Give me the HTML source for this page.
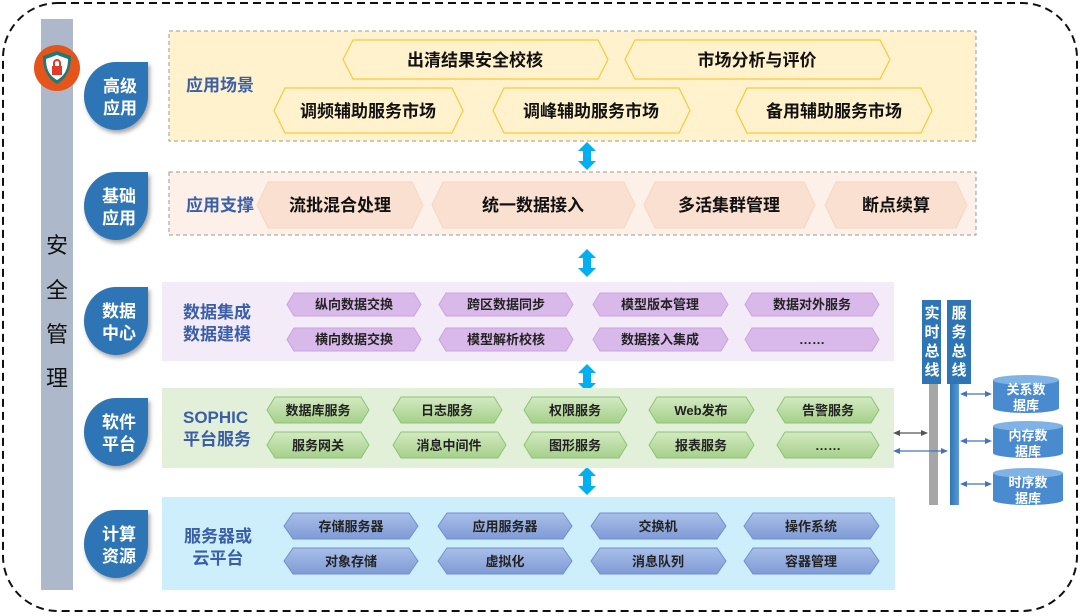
<!DOCTYPE html>
<html><head><meta charset="utf-8"><style>
html,body{margin:0;padding:0;background:#fff;width:1080px;height:616px;overflow:hidden}
svg{display:block}
text{font-family:"Liberation Sans","Noto Sans CJK SC",sans-serif;font-weight:bold}
</style></head><body>
<svg width="1080" height="616" viewBox="0 0 1080 616" xmlns="http://www.w3.org/2000/svg">
<defs>
<linearGradient id="gg" x1="0" y1="0" x2="0" y2="1"><stop offset="0" stop-color="#d3eac2"/><stop offset="1" stop-color="#a5d08a"/></linearGradient>
<linearGradient id="bg" x1="0" y1="0" x2="0" y2="1"><stop offset="0" stop-color="#a9bfe8"/><stop offset="1" stop-color="#7f9bd6"/></linearGradient>
<linearGradient id="bus" x1="0" y1="0" x2="1" y2="0"><stop offset="0" stop-color="#2e75b6"/><stop offset="1" stop-color="#5b9bd5"/></linearGradient>
<filter id="sh" x="-20%" y="-20%" width="150%" height="150%"><feDropShadow dx="2" dy="3" stdDeviation="2" flood-color="#000" flood-opacity="0.35"/></filter>
<g id="dar"><polygon points="0,-14 9,-5 4,-5 4,5 9,5 0,14 -9,5 -4,5 -4,-5 -9,-5" fill="#00b0f0"/></g>
</defs>
<rect x="3" y="3" width="1074" height="608" rx="55" fill="none" stroke="#111" stroke-width="2" stroke-dasharray="8 5"/>

<!-- security bar -->
<rect x="41" y="19" width="32" height="571" fill="#adb9ca"/>
<g font-size="22" fill="#111" text-anchor="middle" style="font-weight:normal">
<text x="57" y="253" style="font-weight:normal">安</text>
<text x="57" y="298" style="font-weight:normal">全</text>
<text x="57" y="342" style="font-weight:normal">管</text>
<text x="57" y="386" style="font-weight:normal">理</text>
</g>
<circle cx="57" cy="68" r="23" fill="#e5541b"/>
<path d="M57,51 L71,56 C71,70 66,79 57,84 C48,79 43,70 43,56 Z" fill="#1c7a78"/>
<path d="M57,55 L68,59 C68,70 64,76 57,80 C50,76 46,70 46,59 Z" fill="#fff"/>
<rect x="52" y="66" width="10" height="9" fill="#e03a2a"/>
<path d="M54,66 v-3 a3,3 0 0 1 6,0 v3" fill="none" stroke="#e03a2a" stroke-width="2"/>

<!-- leaf badges -->
<g fill="#2e75b6" filter="url(#sh)">
<path d="M148,62 V96 A32,34 0 1 1 116,62 Z"/>
<path d="M148,172 V206 A32,34 0 1 1 116,172 Z"/>
<path d="M148,287 V321 A32,34 0 1 1 116,287 Z"/>
<path d="M148,398 V432 A32,34 0 1 1 116,398 Z"/>
<path d="M148,510 V544 A32,34 0 1 1 116,510 Z"/>
</g>
<g font-size="17" fill="#fff" text-anchor="middle">
<text x="120" y="92">高级</text><text x="120" y="114">应用</text>
<text x="119" y="202">基础</text><text x="119" y="224">应用</text>
<text x="119" y="317">数据</text><text x="119" y="339">中心</text>
<text x="119" y="428">软件</text><text x="119" y="450">平台</text>
<text x="119" y="540">计算</text><text x="119" y="562">资源</text>
</g>

<!-- layer 1 -->
<rect x="169" y="31" width="807" height="110" fill="#fff2cc" stroke="#999" stroke-dasharray="4 3"/>
<g fill="#fff2cc" stroke="#f9c93a" stroke-width="1.2">
<polygon points="343,59.5 353,40 598,40 608,59.5 598,79 353,79"/>
<polygon points="625,59.5 635,40 880,40 890,59.5 880,79 635,79"/>
<polygon points="274,110.5 285,88 452,88 463,110.5 452,133 285,133"/>
<polygon points="493,110.5 504,88 679,88 690,110.5 679,133 504,133"/>
<polygon points="736,110.5 747,88 921,88 932,110.5 921,133 747,133"/>
</g>
<g font-size="17" fill="#111" text-anchor="middle">
<text x="475" y="66">出清结果安全校核</text>
<text x="757" y="66">市场分析与评价</text>
<text x="368" y="117">调频辅助服务市场</text>
<text x="591" y="117">调峰辅助服务市场</text>
<text x="834" y="117">备用辅助服务市场</text>
</g>
<text x="186" y="91" font-size="17" fill="#3a5ea8">应用场景</text>

<!-- layer 2 -->
<rect x="169" y="172" width="807" height="63" fill="#fcf0e8" stroke="#999" stroke-dasharray="4 3"/>
<g fill="#f9e0d0" stroke="#f6d6c2">
<polygon points="257,205 268,182 412,182 423,205 412,228 268,228"/>
<polygon points="432,205 443,182 624,182 635,205 624,228 443,228"/>
<polygon points="644,205 655,182 804,182 815,205 804,228 655,228"/>
<polygon points="825,205 836,182 956,182 967,205 956,228 836,228"/>
</g>
<g font-size="17" fill="#111" text-anchor="middle">
<text x="340" y="211">流批混合处理</text>
<text x="533" y="211">统一数据接入</text>
<text x="729" y="211">多活集群管理</text>
<text x="896" y="211">断点续算</text>
</g>
<text x="186" y="211" font-size="17" fill="#3a5ea8">应用支撑</text>

<!-- arrows between -->
<use href="#dar" x="587" y="156"/>
<use href="#dar" x="587" y="263"/>
<use href="#dar" x="587" y="378"/>
<use href="#dar" x="587" y="481"/>

<!-- layer 3 -->
<rect x="162" y="282" width="732" height="79" fill="#f3ebf8"/>
<g fill="#d9b9ea" stroke="#c9a2e0">
<polygon points="287,304.5 294,293 414,293 421,304.5 414,316 294,316"/>
<polygon points="439,304.5 446,293 566,293 573,304.5 566,316 446,316"/>
<polygon points="593,304.5 600,293 721,293 728,304.5 721,316 600,316"/>
<polygon points="745,304.5 752,293 872,293 879,304.5 872,316 752,316"/>
<polygon points="287,339.5 294,328 414,328 421,339.5 414,351 294,351"/>
<polygon points="439,339.5 446,328 566,328 573,339.5 566,351 446,351"/>
<polygon points="593,339.5 600,328 721,328 728,339.5 721,351 600,351"/>
<polygon points="745,339.5 752,328 872,328 879,339.5 872,351 752,351"/>
</g>
<g font-size="13" fill="#222" text-anchor="middle">
<text x="354" y="309">纵向数据交换</text>
<text x="506" y="309">跨区数据同步</text>
<text x="660" y="309">模型版本管理</text>
<text x="812" y="309">数据对外服务</text>
<text x="354" y="344">横向数据交换</text>
<text x="506" y="344">模型解析校核</text>
<text x="660" y="344">数据接入集成</text>
<text x="812" y="344">……</text>
</g>
<g font-size="17" fill="#3a5ea8"><text x="183" y="318">数据集成</text><text x="183" y="340">数据建模</text></g>

<!-- layer 4 -->
<rect x="162" y="388" width="732" height="80" fill="#e2f0d9"/>
<g fill="url(#gg)" stroke="#8cc474">
<polygon points="267,410 275,397 361,397 369,410 361,423 275,423"/>
<polygon points="393,410 401,397 494,397 502,410 494,423 401,423"/>
<polygon points="524,410 532,397 619,397 627,410 619,423 532,423"/>
<polygon points="649,410 657,397 746,397 754,410 746,423 657,423"/>
<polygon points="777,410 785,397 871,397 879,410 871,423 785,423"/>
<polygon points="267,445 275,432 361,432 369,445 361,458 275,458"/>
<polygon points="393,445 401,432 498,432 506,445 498,458 401,458"/>
<polygon points="524,445 532,432 619,432 627,445 619,458 532,458"/>
<polygon points="649,445 657,432 746,432 754,445 746,458 657,458"/>
<polygon points="777,445 785,432 871,432 879,445 871,458 785,458"/>
</g>
<g font-size="13" fill="#222" text-anchor="middle">
<text x="318" y="415">数据库服务</text>
<text x="447" y="415">日志服务</text>
<text x="575" y="415">权限服务</text>
<text x="701" y="415">Web发布</text>
<text x="828" y="415">告警服务</text>
<text x="318" y="450">服务网关</text>
<text x="449" y="450">消息中间件</text>
<text x="575" y="450">图形服务</text>
<text x="701" y="450">报表服务</text>
<text x="828" y="450">……</text>
</g>
<g font-size="17" fill="#3a5ea8"><text x="183" y="423">SOPHIC</text><text x="183" y="445">平台服务</text></g>

<!-- layer 5 -->
<rect x="162" y="497" width="733" height="93" fill="#cdeefb"/>
<g fill="url(#bg)" stroke="#6f8fd0">
<polygon points="284,526 293,513 409,513 418,526 409,539 293,539"/>
<polygon points="438,526 447,513 563,513 572,526 563,539 447,539"/>
<polygon points="591,526 600,513 717,513 726,526 717,539 600,539"/>
<polygon points="744,526 753,513 870,513 879,526 870,539 753,539"/>
<polygon points="284,561 293,548 409,548 418,561 409,574 293,574"/>
<polygon points="438,561 447,548 563,548 572,561 563,574 447,574"/>
<polygon points="591,561 600,548 717,548 726,561 717,574 600,574"/>
<polygon points="744,561 753,548 870,548 879,561 870,574 753,574"/>
</g>
<g font-size="13" fill="#222" text-anchor="middle">
<text x="351" y="531">存储服务器</text>
<text x="505" y="531">应用服务器</text>
<text x="658" y="531">交换机</text>
<text x="811" y="531">操作系统</text>
<text x="351" y="566">对象存储</text>
<text x="505" y="566">虚拟化</text>
<text x="658" y="566">消息队列</text>
<text x="811" y="566">容器管理</text>
</g>
<g font-size="17" fill="#3a5ea8" text-anchor="middle"><text x="218" y="542">服务器或</text><text x="218" y="564">云平台</text></g>

<!-- buses -->
<rect x="929" y="384" width="9" height="121" fill="#a6a6a6"/>
<rect x="950" y="384" width="9" height="121" fill="url(#bus)"/>
<rect x="922" y="300" width="19" height="84" fill="#2e75b6"/>
<rect x="947" y="300" width="24" height="84" fill="#2e75b6"/>
<g font-size="15" fill="#fff" text-anchor="middle">
<text x="932" y="318">实</text><text x="932" y="337">时</text><text x="932" y="356">总</text><text x="932" y="375">线</text>
<text x="959" y="318">服</text><text x="959" y="337">务</text><text x="959" y="356">总</text><text x="959" y="375">线</text>
</g>
<!-- connector arrows -->
<g stroke-width="1.3">
<line x1="898" y1="433" x2="923" y2="433" stroke="#555"/>
<polygon points="893,433 900,430 900,436" fill="#555"/><polygon points="928,433 921,430 921,436" fill="#555"/>
<line x1="898" y1="451" x2="943" y2="451" stroke="#4472c4"/>
<polygon points="893,451 900,448 900,454" fill="#4472c4"/><polygon points="948,451 941,448 941,454" fill="#4472c4"/>
<line x1="965" y1="394" x2="987" y2="394" stroke="#4472c4"/>
<polygon points="960,394 967,391 967,397" fill="#4472c4"/><polygon points="992,394 985,391 985,397" fill="#4472c4"/>
<line x1="965" y1="441" x2="987" y2="441" stroke="#4472c4"/>
<polygon points="960,441 967,438 967,444" fill="#4472c4"/><polygon points="992,441 985,438 985,444" fill="#4472c4"/>
<line x1="965" y1="484" x2="987" y2="484" stroke="#4472c4"/>
<polygon points="960,484 967,481 967,487" fill="#4472c4"/><polygon points="992,484 985,481 985,487" fill="#4472c4"/>
</g>
<!-- cylinders -->
<g>
<path d="M993,380 V408 A33,5 0 0 0 1059,408 V380 Z" fill="#4a8bd0"/><ellipse cx="1026" cy="380" rx="33" ry="5" fill="#7fb2e5"/>
<path d="M993,426 V453 A35,5 0 0 0 1063,453 V426 Z" fill="#4a8bd0"/><ellipse cx="1028" cy="426" rx="35" ry="5" fill="#7fb2e5"/>
<path d="M993,473 V500 A35,5 0 0 0 1063,500 V473 Z" fill="#4a8bd0"/><ellipse cx="1028" cy="473" rx="35" ry="5" fill="#7fb2e5"/>
</g>
<g font-size="13" fill="#fff" text-anchor="middle">
<text x="1026" y="394">关系数</text><text x="1026" y="410">据库</text>
<text x="1028" y="440">内存数</text><text x="1028" y="456">据库</text>
<text x="1028" y="487">时序数</text><text x="1028" y="503">据库</text>
</g>
</svg>
</body></html>
